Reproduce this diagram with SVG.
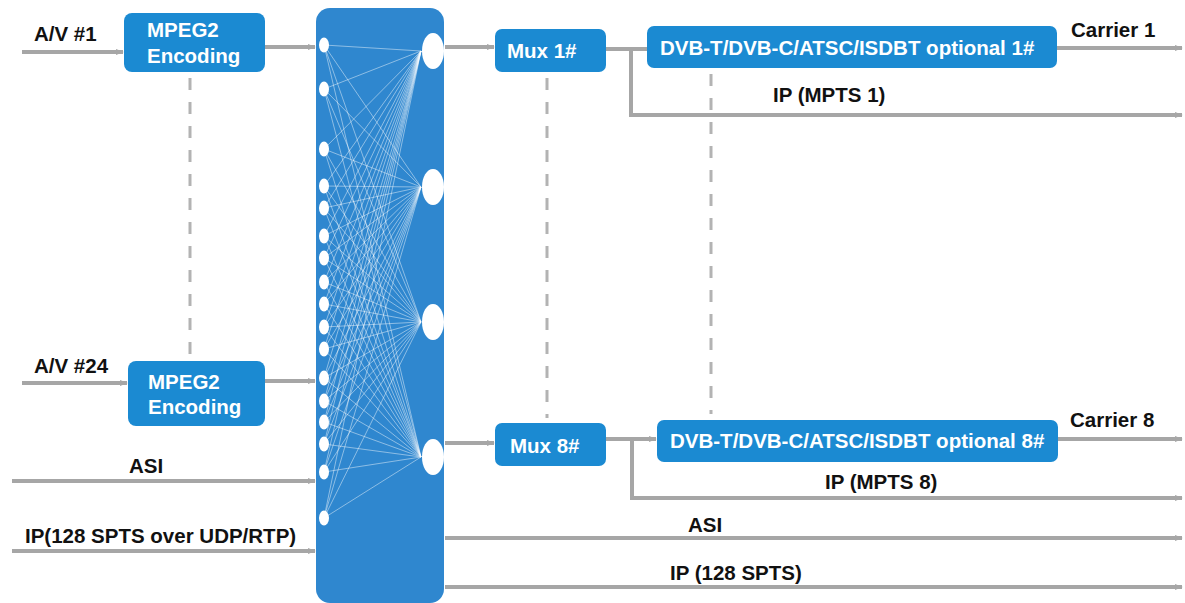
<svg xmlns="http://www.w3.org/2000/svg" width="1185" height="603" viewBox="0 0 1185 603">
<defs>
<style>
.box{fill:#1b8ad2;}
.wt{fill:#ffffff;font-family:"Liberation Sans",Arial,sans-serif;font-weight:bold;font-size:20.5px;}
.bt{fill:#111111;font-family:"Liberation Sans",Arial,sans-serif;font-weight:bold;font-size:20.5px;}
.ln{stroke:#a6a6a6;stroke-width:4;fill:none;}
.dash{stroke:#b3b3b3;stroke-width:3;fill:none;stroke-dasharray:12 12;}
.fan{stroke:#ffffff;stroke-opacity:0.5;stroke-width:0.9;fill:none;}
</style>
<marker id="arr" viewBox="0 0 10 10" refX="9" refY="5" markerWidth="2" markerHeight="2" orient="auto" markerUnits="strokeWidth">
<path d="M0,1 L10,5 L0,9 z" fill="#a6a6a6"/>
</marker>
</defs>
<rect width="1185" height="603" fill="#ffffff"/>

<g id="connectors">
<line class="ln" x1="22" y1="52" x2="123" y2="52" marker-end="url(#arr)"/>
<line class="ln" x1="265" y1="47" x2="315" y2="47" marker-end="url(#arr)"/>
<line class="ln" x1="22" y1="383" x2="127" y2="383" marker-end="url(#arr)"/>
<line class="ln" x1="265" y1="381" x2="315" y2="381" marker-end="url(#arr)"/>
<line class="ln" x1="12" y1="481" x2="315" y2="481" marker-end="url(#arr)"/>
<line class="ln" x1="12" y1="551" x2="315" y2="551" marker-end="url(#arr)"/>
<line class="ln" x1="445" y1="47" x2="494" y2="47" marker-end="url(#arr)"/>
<line class="ln" x1="606" y1="49" x2="647" y2="49"/>
<polyline class="ln" points="631,49 631,115 1182,115" marker-end="url(#arr)"/>
<line class="ln" x1="1057" y1="48" x2="1182" y2="48" marker-end="url(#arr)"/>
<line class="ln" x1="445" y1="443" x2="494" y2="443" marker-end="url(#arr)"/>
<line class="ln" x1="606" y1="439" x2="656" y2="439" marker-end="url(#arr)"/>
<polyline class="ln" points="632,439 632,498 1182,498" marker-end="url(#arr)"/>
<line class="ln" x1="1058" y1="439" x2="1182" y2="439" marker-end="url(#arr)"/>
<line class="ln" x1="445" y1="538" x2="1182" y2="538" marker-end="url(#arr)"/>
<line class="ln" x1="445" y1="587" x2="1182" y2="587" marker-end="url(#arr)"/>
<line class="dash" x1="190" y1="78" x2="190" y2="356"/>
<line class="dash" x1="547" y1="78" x2="547" y2="418"/>
<line class="dash" x1="711" y1="74" x2="711" y2="414"/>
</g>

<g id="matrix">
<rect x="316" y="8" width="128" height="595" rx="14" fill="#2f87cf"/>
<path class="fan" d="M324 45L421 51M324 45L421 187M324 45L421 322M324 45L421 457M324 89L421 51M324 89L421 187M324 89L421 322M324 89L421 457M324 149L421 51M324 149L421 187M324 149L421 322M324 149L421 457M324 186L421 51M324 186L421 187M324 186L421 322M324 186L421 457M324 208L421 51M324 208L421 187M324 208L421 322M324 208L421 457M324 236L421 51M324 236L421 187M324 236L421 322M324 236L421 457M324 258L421 51M324 258L421 187M324 258L421 322M324 258L421 457M324 282L421 51M324 282L421 187M324 282L421 322M324 282L421 457M324 304L421 51M324 304L421 187M324 304L421 322M324 304L421 457M324 327L421 51M324 327L421 187M324 327L421 322M324 327L421 457M324 349L421 51M324 349L421 187M324 349L421 322M324 349L421 457M324 378L421 51M324 378L421 187M324 378L421 322M324 378L421 457M324 401L421 51M324 401L421 187M324 401L421 322M324 401L421 457M324 422L421 51M324 422L421 187M324 422L421 322M324 422L421 457M324 444L421 51M324 444L421 187M324 444L421 322M324 444L421 457M324 472L421 51M324 472L421 187M324 472L421 322M324 472L421 457M324 518L421 51M324 518L421 187M324 518L421 322M324 518L421 457"/>
<g fill="#ffffff">
<ellipse cx="324" cy="45" rx="5" ry="7.5"/>
<ellipse cx="324" cy="89" rx="5" ry="7.5"/>
<ellipse cx="324" cy="149" rx="5" ry="7.5"/>
<ellipse cx="324" cy="186" rx="5" ry="7.5"/>
<ellipse cx="324" cy="208" rx="5" ry="7.5"/>
<ellipse cx="324" cy="236" rx="5" ry="7.5"/>
<ellipse cx="324" cy="258" rx="5" ry="7.5"/>
<ellipse cx="324" cy="282" rx="5" ry="7.5"/>
<ellipse cx="324" cy="304" rx="5" ry="7.5"/>
<ellipse cx="324" cy="327" rx="5" ry="7.5"/>
<ellipse cx="324" cy="349" rx="5" ry="7.5"/>
<ellipse cx="324" cy="378" rx="5" ry="7.5"/>
<ellipse cx="324" cy="401" rx="5" ry="7.5"/>
<ellipse cx="324" cy="422" rx="5" ry="7.5"/>
<ellipse cx="324" cy="444" rx="5" ry="7.5"/>
<ellipse cx="324" cy="472" rx="5" ry="7.5"/>
<ellipse cx="324" cy="518" rx="5" ry="7.5"/>
<ellipse cx="433" cy="51" rx="11" ry="18"/>
<ellipse cx="433" cy="187" rx="11" ry="18"/>
<ellipse cx="433" cy="322" rx="11" ry="18"/>
<ellipse cx="433" cy="457" rx="11" ry="18"/>
</g>
</g>

<g id="enc1">
<rect class="box" x="124" y="13" width="141" height="59" rx="8"/>
<text class="wt" x="147" y="37">MPEG2</text>
<text class="wt" x="147" y="63">Encoding</text>
</g>
<g id="enc24">
<rect class="box" x="128" y="361" width="137" height="65" rx="8"/>
<text class="wt" x="148" y="389">MPEG2</text>
<text class="wt" x="148" y="414">Encoding</text>
</g>
<g id="mux1">
<rect class="box" x="495" y="29" width="111" height="43" rx="7"/>
<text class="wt" x="507" y="58">Mux 1#</text>
</g>
<g id="mux8">
<rect class="box" x="495" y="423" width="111" height="43" rx="7"/>
<text class="wt" x="510" y="453">Mux 8#</text>
</g>
<g id="mod1">
<rect class="box" x="647" y="26" width="410" height="42" rx="7"/>
<text class="wt" x="660" y="55">DVB-T/DVB-C/ATSC/ISDBT optional 1#</text>
</g>
<g id="mod8">
<rect class="box" x="657" y="420" width="401" height="42" rx="7"/>
<text class="wt" x="670" y="448">DVB-T/DVB-C/ATSC/ISDBT optional 8#</text>
</g>

<g id="labels">
<text class="bt" x="34" y="41">A/V #1</text>
<text class="bt" x="34" y="373">A/V #24</text>
<text class="bt" x="129" y="473">ASI</text>
<text class="bt" x="25" y="543">IP(128 SPTS over UDP/RTP)</text>
<text class="bt" x="1071" y="37">Carrier 1</text>
<text class="bt" x="773" y="102">IP (MPTS 1)</text>
<text class="bt" x="1070" y="427">Carrier 8</text>
<text class="bt" x="825" y="489">IP (MPTS 8)</text>
<text class="bt" x="688" y="532">ASI</text>
<text class="bt" x="670" y="580">IP (128 SPTS)</text>
</g>
</svg>
